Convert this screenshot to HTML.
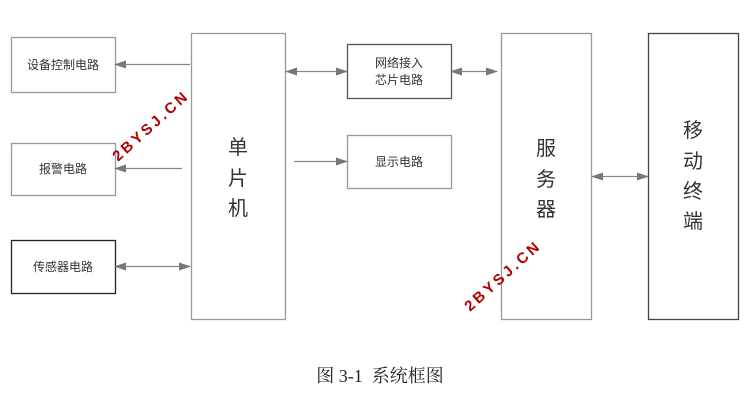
<!DOCTYPE html>
<html><head><meta charset="utf-8"><style>
html,body{margin:0;padding:0;background:#fff;}
svg{display:block;}
text{font-family:"Liberation Sans","Noto Sans CJK SC",sans-serif;fill:#333;}
</style></head><body>
<svg width="749" height="410" viewBox="0 0 749 410" xmlns="http://www.w3.org/2000/svg">
<defs>
<marker id="a" markerWidth="12" markerHeight="8" refX="11" refY="4" orient="auto" markerUnits="userSpaceOnUse">
<path d="M0,0 L12,4 L0,8 Z" fill="#777"/></marker>
<marker id="b" markerWidth="12" markerHeight="8" refX="1" refY="4" orient="auto" markerUnits="userSpaceOnUse">
<path d="M12,0 L0,4 L12,8 Z" fill="#777"/></marker>
</defs>
<g fill="none" stroke-width="1.3">
<rect x="11.5" y="37.5" width="104" height="55" stroke="#999"/>
<rect x="11.5" y="143.5" width="104" height="52" stroke="#999"/>
<rect x="11.5" y="240.5" width="104" height="53" stroke="#222"/>
<rect x="191.5" y="33.5" width="94" height="286" stroke="#999"/>
<rect x="347.5" y="44.5" width="104" height="54" stroke="#555"/>
<rect x="347.5" y="135.5" width="104" height="53" stroke="#999"/>
<rect x="501.5" y="33.5" width="90" height="286" stroke="#999"/>
<rect x="648.5" y="33.5" width="90" height="286" stroke="#444"/>
</g>
<g stroke="#888" stroke-width="1.2">
<line x1="190" y1="64.5" x2="115" y2="64.5" marker-end="url(#a)"/>
<line x1="182" y1="168.5" x2="115" y2="168.5" marker-end="url(#a)"/>
<line x1="115" y1="266.5" x2="190" y2="266.5" marker-start="url(#b)" marker-end="url(#a)"/>
<line x1="286" y1="71.5" x2="347" y2="71.5" marker-start="url(#b)" marker-end="url(#a)"/>
<line x1="451" y1="71.5" x2="497" y2="71.5" marker-start="url(#b)" marker-end="url(#a)"/>
<line x1="294" y1="161.5" x2="347" y2="161.5" marker-end="url(#a)"/>
<line x1="592" y1="176.5" x2="648" y2="176.5" marker-start="url(#b)" marker-end="url(#a)"/>
</g>
<g font-size="12" text-anchor="middle">
<text x="63" y="69">设备控制电路</text>
<text x="63" y="173">报警电路</text>
<text x="63" y="271">传感器电路</text>
<text x="399" y="67">网络接入</text>
<text x="399" y="84">芯片电路</text>
<text x="399" y="166">显示电路</text>
</g>
<g font-size="20" text-anchor="middle">
<text x="238" y="154">单</text><text x="238" y="185">片</text><text x="238" y="215">机</text>
<text x="546" y="155">服</text><text x="546" y="186">务</text><text x="546" y="216">器</text>
<text x="693" y="137">移</text><text x="693" y="168">动</text><text x="693" y="198">终</text><text x="693" y="228">端</text>
</g>
<g font-weight="bold" font-size="15" letter-spacing="3">
<text x="0" y="0" transform="translate(118,162) rotate(-42)" style="fill:#b00000">2BYSJ.CN</text>
<text x="0" y="0" transform="translate(470,312) rotate(-42)" style="fill:#b00000">2BYSJ.CN</text>
</g>
<text x="380" y="382" font-size="18" text-anchor="middle" style="font-family:'Liberation Serif','Noto Serif CJK SC',serif;fill:#222">图 3-1&#160;&#160;系统框图</text>
</svg>
</body></html>
